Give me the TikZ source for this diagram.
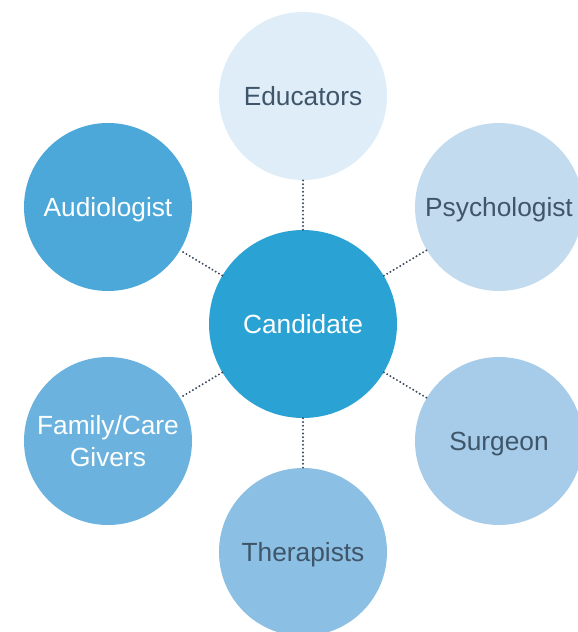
\documentclass[tikz,border=0pt]{standalone}
\usepackage{fontspec}
\setmainfont{Liberation Sans}
\definecolor{cCand}{HTML}{2AA3D4}
\definecolor{cAud}{HTML}{4CA8D8}
\definecolor{cFam}{HTML}{6BB3DE}
\definecolor{cTher}{HTML}{8BBFE3}
\definecolor{cSurg}{HTML}{A6CCE9}
\definecolor{cPsy}{HTML}{C3DBEE}
\definecolor{cEdu}{HTML}{DEEDF7}
\definecolor{cDark}{HTML}{3F5569}
\definecolor{cLine}{HTML}{3B4B5C}
\begin{document}
\begin{tikzpicture}[x=1pt,y=-1pt,
  bubble/.style={circle,inner sep=0pt,minimum size=168pt,draw=none,align=center,
    text depth=0pt,font=\fontsize{26.3}{32}\selectfont},
  lighttext/.style={text=white},
  darktext/.style={text=cDark},
  conn/.style={draw=cLine,line width=2.2pt,line cap=round,dash pattern=on 0pt off 3.8pt}]
\useasboundingbox (0,0) rectangle (578,632);
\clip (0,0) rectangle (578,632);
\node[bubble,fill=cCand,lighttext,minimum size=188pt] (cand) at (303,324) {Candidate};
\node[bubble,fill=cEdu,darktext] (edu) at (303,96) {Educators};
\node[bubble,fill=cPsy,darktext] (psy) at (499,207) {Psychologist};
\node[bubble,fill=cSurg,darktext] (surg) at (499,441) {Surgeon};
\node[bubble,fill=cTher,darktext] (ther) at (303,552) {Therapists};
\node[bubble,fill=cFam,lighttext] (fam) at (108,441) {Family/Care\\Givers};
\node[bubble,fill=cAud,lighttext] (aud) at (108,207) {Audiologist};
\draw[conn] (cand) -- (edu);
\draw[conn] (cand) -- (psy);
\draw[conn] (cand) -- (surg);
\draw[conn] (cand) -- (ther);
\draw[conn] (cand) -- (fam);
\draw[conn] (cand) -- (aud);
\end{tikzpicture}
\end{document}
